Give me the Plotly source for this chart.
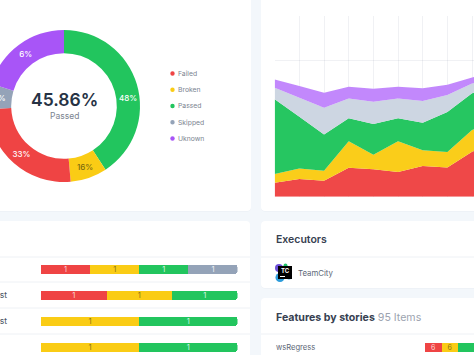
import plotly.graph_objects as go

# ---------- data ----------
donut_labels = ["Passed", "Broken", "Failed", "Skipped", "Unknown"]
donut_values = [40.8, 7.8, 25.8, 5.3, 20.3]
donut_text = ["48%", "16%", "33%", "6%", "6%"]
donut_colors = ["#22C55E", "#FACC15", "#EF4444", "#94A3B8", "#A855F7"]
donut_text_colors = ["#FFFFFF", "#7A6A10", "#FFFFFF", "#FFFFFF", "#FFFFFF"]

legend_names = ["Failed", "Broken", "Passed", "Skipped", "Uknown"]
legend_colors = ["#EF4444", "#FACC15", "#22C55E", "#94A3B8", "#A855F7"]

trend_x = [0, 1, 2, 3, 4, 5, 6, 7, 8, 9]
trend_failed = [7.7, 9.8, 8.8, 16.0, 15.1, 13.6, 16.9, 16.2, 24.9, 29.0]
trend_broken = [4.8, 5.8, 5.6, 14.6, 8.1, 17.0, 8.7, 8.5, 11.9, 13.0]
trend_passed = [41.3, 28.6, 19.9, 12.7, 16.9, 12.7, 15.3, 22.1, 20.3, 20.0]
trend_skipped = [6.4, 10.5, 14.9, 11.0, 12.4, 11.0, 12.0, 9.4, 5.5, 4.0]
trend_unknown = [4.6, 6.4, 8.3, 6.5, 7.2, 6.5, 7.0, 5.7, 3.3, 3.0]

rows = ["r1", "r2", "r3", "r4"]
row_failed = [1, 1, None, None]
row_broken = [1, 1, 1, 1]
row_passed = [1, 1, 1, 1]
row_skipped = [1, None, None, None]

feature_failed = [6]
feature_broken = [6]
feature_passed = [83]

# ---------- layout helpers ----------
OFF = 20
W, H = 474 + OFF, 375


def X(p):
    return (p + OFF) / W


def Y(p):
    return 1 - p / H


def card(x0, y0, x1, y1, fill="#FFFFFF", r=4):
    a, b, c, d = X(x0), Y(y0), X(x1), Y(y1)
    rx, ry = r / W, r / H
    path = (
        f"M{a + rx},{b} L{c - rx},{b} Q{c},{b} {c},{b - ry} L{c},{d + ry} Q{c},{d} {c - rx},{d} "
        f"L{a + rx},{d} Q{a},{d} {a},{d + ry} L{a},{b - ry} Q{a},{b} {a + rx},{b} Z"
    )
    return dict(type="path", xref="paper", yref="paper", path=path, fillcolor=fill,
                line=dict(width=0), layer="below")


def hline(y, x0, x1):
    return dict(type="line", xref="paper", yref="paper", x0=X(x0), x1=X(x1), y0=Y(y), y1=Y(y),
                line=dict(color="#EEF1F5", width=1), layer="below")


def dot(cx, cy, r, color, layer="above"):
    return dict(type="circle", xref="paper", yref="paper", x0=X(cx - r), x1=X(cx + r),
                y0=Y(cy + r), y1=Y(cy - r), fillcolor=color, line=dict(width=0), layer=layer)


def label(x, y, text, size=8.5, color="#6B7280", anchor="left", weight=400):
    return dict(xref="paper", yref="paper", x=X(x), y=Y(y), text=text, showarrow=False,
                xanchor=anchor, yanchor="middle", borderpad=0,
                font=dict(family="Inter", size=size, color=color, weight=weight))


fig = go.Figure()

# donut (the label of the first slice sits lower in the reference, it is added as an annotation)
pie_text = [""] + donut_text[1:]
fig.add_trace(go.Pie(
    labels=donut_labels, values=donut_values, text=pie_text, textinfo="text",
    textposition="inside", insidetextorientation="horizontal",
    textfont=dict(family="Inter", size=8, color=donut_text_colors, weight=500),
    marker=dict(colors=donut_colors, line=dict(width=0)),
    hole=0.695, sort=False, direction="clockwise", rotation=0, showlegend=False,
    domain=dict(x=[X(64 - 76), X(64 + 76)], y=[Y(182), Y(30)]),
))

# stacked area
for name, vals, col in [
    ("Failed", trend_failed, "rgba(239,68,68,0.98)"),
    ("Broken", trend_broken, "rgba(250,204,21,0.98)"),
    ("Passed", trend_passed, "rgba(34,197,94,0.98)"),
    ("Skipped", trend_skipped, "rgba(203,213,225,0.97)"),
    ("Unknown", trend_unknown, "rgba(192,132,252,0.97)"),
]:
    fig.add_trace(go.Scatter(x=trend_x, y=vals, name=name, stackgroup="t", mode="none",
                             fillcolor=col, showlegend=False, xaxis="x", yaxis="y"))

# row bars
for name, vals, col, tc in [
    ("Failed", row_failed, "#EF4444", "#FBD5D5"),
    ("Broken", row_broken, "#FACC15", "#8A7414"),
    ("Passed", row_passed, "#22C55E", "#D6F5E2"),
    ("Skipped", row_skipped, "#94A3B8", "#EEF1F5"),
]:
    fig.add_trace(go.Bar(y=rows, x=vals, orientation="h", name=name, marker=dict(color=col, line=dict(width=0)),
                         text=[v if v else "" for v in vals], textposition="inside", insidetextanchor="middle",
                         textangle=0, constraintext="none", textfont=dict(family="Inter", size=7.5, color=tc),
                         showlegend=False, xaxis="x2", yaxis="y2"))

# features bar
for name, vals, col, tc, txt in [
    ("Failed", feature_failed, "#EF4444", "#FBD5D5", feature_failed),
    ("Broken", feature_broken, "#FACC15", "#8A7414", feature_broken),
    ("Passed", feature_passed, "#22C55E", "#D6F5E2", [""]),
]:
    fig.add_trace(go.Bar(y=["wsRegress"], x=vals, orientation="h", name=name, marker=dict(color=col, line=dict(width=0)),
                         text=txt, textposition="inside", insidetextanchor="middle", textangle=0,
                         constraintext="none", textfont=dict(family="Inter", size=7, color=tc),
                         showlegend=False, xaxis="x3", yaxis="y3"))

shapes = [
    card(-30, -20, 251, 211.5, "#E9EEF4"), card(-30, -20, 251, 211),
    card(261, -20, 520, 211.5, "#E9EEF4"), card(261, -20, 520, 211),
    card(-30, 221, 250, 400),
    card(261, 221, 520, 288.5, "#E9EEF4"), card(261, 221, 520, 288),
    card(261, 298, 520, 400),
    hline(257, -30, 250), hline(282, -30, 250), hline(308, -30, 250), hline(334, -30, 250),
    hline(257, 261, 474), hline(334, 261, 474),
]
for i, c in enumerate(legend_colors):
    shapes.append(dot(172.5, 73.5 + i * 16.25, 2.2, c))
# TeamCity logo
shapes += [
    dot(279, 268, 4, "#6D4FD8"), dot(285.5, 265.5, 2, "#21C16B"),
    dot(280, 277.5, 4.5, "#2D9CDB"), dot(289, 277, 2.5, "#2D9CDB"),
    dict(type="rect", xref="paper", yref="paper", x0=X(278), x1=X(292), y0=Y(279), y1=Y(266),
         fillcolor="#000000", line=dict(width=0), layer="above"),
    dict(type="line", xref="paper", yref="paper", x0=X(280), x1=X(285), y0=Y(276.5), y1=Y(276.5),
         line=dict(color="#FFFFFF", width=1), layer="above"),
]

annotations = [
    label(64, 100, "45.86%", 17.5, "#263244", "center", 600),
    label(64, 116.5, "Passed", 8.5, "#7B8490", "center"),
    label(128, 98, donut_text[0], 8, "#FFFFFF", "center", 500),
    label(8, 295, "test", 8.5, "#4B5563", "right"),
    label(8, 321, "test", 8.5, "#4B5563", "right"),
    label(275, 239.5, "Executors", 10.5, "#374151", "left", 600),
    label(297, 273, "TeamCity", 7.8, "#5B6675"),
    label(275, 317, "<b>Features by stories</b> <span style='color:#9CA3AF'>95 Items</span>", 10.6, "#374151"),
    label(275, 347, "wsRegress", 7.6, "#5B6675"),
    label(285, 270.5, "<b>TC</b>", 6, "#FFFFFF", "center"),
]
for i, n in enumerate(legend_names):
    annotations.append(label(177, 73.5 + i * 16.25, n, 6.8, "#7B8490"))

hidden = dict(visible=False, fixedrange=True)
grid = "rgba(60,80,110,0.08)"

fig.update_layout(
    width=W, height=H, margin=dict(l=0, r=0, t=0, b=0, pad=0), autosize=False,
    paper_bgcolor="#F3F7FB", plot_bgcolor="rgba(0,0,0,0)",
    font=dict(family="Inter"),
    barmode="stack", barnorm="fraction", barcornerradius=2,
    shapes=shapes, annotations=annotations, showlegend=False,
    xaxis=dict(domain=[X(274.7), 1], range=[0, (474 - 274.7) / 24.67], dtick=1, tick0=0, showgrid=True,
               gridcolor=grid, gridwidth=1, zeroline=False, showline=False, showticklabels=False, ticks="",
               fixedrange=True),
    yaxis=dict(domain=[Y(196.7), Y(15.7)], range=[0, 100], dtick=25, showgrid=True, gridcolor=grid, gridwidth=1,
               zeroline=False, showline=False, showticklabels=False, ticks="", fixedrange=True),
    xaxis2=dict(domain=[X(41), X(237.5)], range=[0, 1], anchor="y2", **hidden),
    yaxis2=dict(domain=[Y(360), Y(256)], range=[3.5, -0.5], type="category", categoryorder="array",
                categoryarray=rows, anchor="x2", **hidden),
    xaxis3=dict(domain=[X(425), 1], range=[0, (474 - 425) / 261.3], anchor="y3", **hidden),
    yaxis3=dict(domain=[Y(360), Y(334)], range=[-0.5, 0.5], anchor="x3", **hidden),
    bargap=0.654,
)

post = (
    "document.documentElement.style.overflow='hidden';"
    "document.body.style.overflow='hidden';"
    "document.body.style.margin='0';"
    "document.getElementById('{plot_id}').style.marginLeft='-%dpx';" % OFF
)
fig.write_html("out.html", post_script=post, config=dict(displayModeBar=False))
